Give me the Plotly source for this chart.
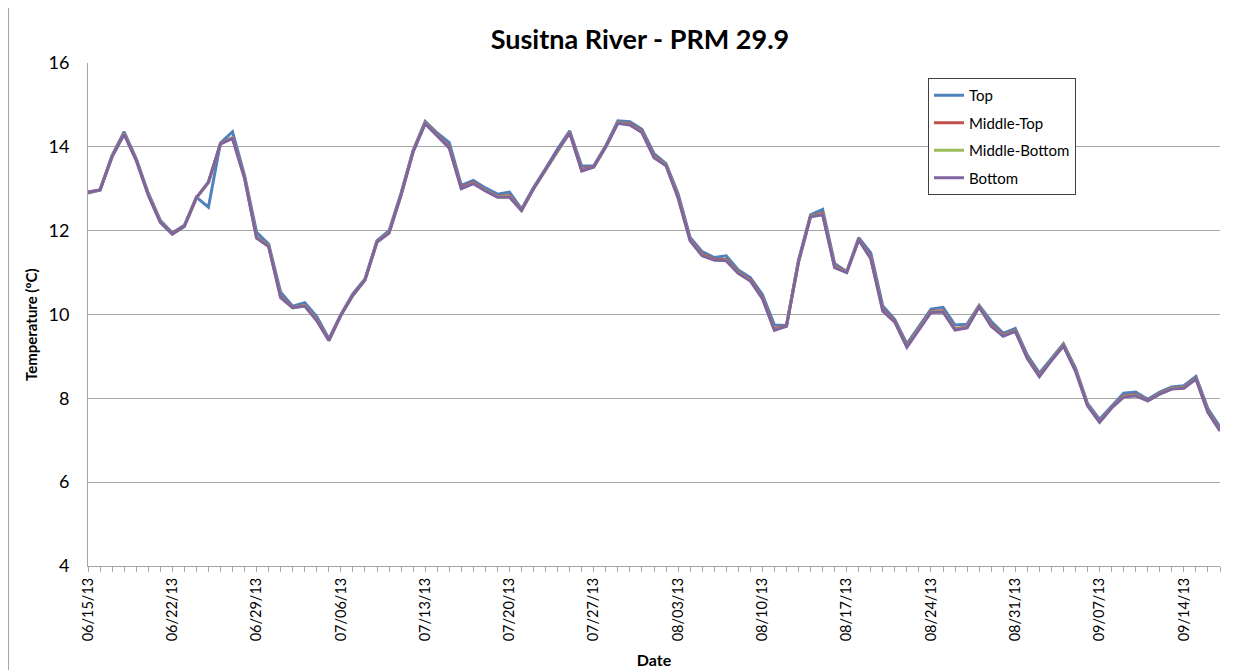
import pandas as pd
import plotly.graph_objects as go

start_date = "2013-06-15"
n_days = 95
dates = pd.date_range(start_date, periods=n_days, freq="D")

top = [12.90, 12.97, 13.80, 14.36, 13.72, 12.90, 12.25, 11.95, 12.13, 12.80,
       12.56, 14.09, 14.36, 13.32, 11.96, 11.68, 10.53, 10.20, 10.28, 9.95,
       9.42, 10.00, 10.50, 10.85, 11.76, 12.00, 12.90, 13.92, 14.61, 14.33,
       14.10, 13.08, 13.20, 13.02, 12.87, 12.92, 12.52, 13.03, 13.48, 13.95,
       14.38, 13.54, 13.55, 14.03, 14.62, 14.60, 14.42, 13.84, 13.60, 12.88,
       11.84, 11.50, 11.36, 11.40, 11.06, 10.88, 10.48, 9.75, 9.74, 11.30,
       12.38, 12.51, 11.22, 11.02, 11.83, 11.47, 10.20, 9.88, 9.30, 9.70,
       10.13, 10.17, 9.75, 9.77, 10.22, 9.84, 9.55, 9.67, 9.03, 8.60,
       8.95, 9.30, 8.72, 7.88, 7.50, 7.80, 8.12, 8.15, 7.98, 8.15,
       8.27, 8.30, 8.52, 7.75, 7.32]

middle_top = [12.91, 12.97, 13.78, 14.32, 13.70, 12.87, 12.22, 11.93, 12.11, 12.79,
              13.15, 14.08, 14.22, 13.27, 11.85, 11.64, 10.43, 10.17, 10.22, 9.88,
              9.39, 9.99, 10.47, 10.83, 11.74, 11.96, 12.87, 13.90, 14.57, 14.29,
              14.00, 13.03, 13.15, 12.97, 12.82, 12.84, 12.49, 13.01, 13.46, 13.93,
              14.35, 13.46, 13.53, 14.01, 14.58, 14.55, 14.37, 13.78, 13.57, 12.82,
              11.79, 11.44, 11.32, 11.31, 11.01, 10.83, 10.41, 9.66, 9.73, 11.27,
              12.35, 12.42, 11.16, 11.01, 11.80, 11.37, 10.12, 9.84, 9.25, 9.67,
              10.08, 10.09, 9.66, 9.71, 10.20, 9.76, 9.51, 9.62, 8.98, 8.55,
              8.92, 9.27, 8.68, 7.84, 7.45, 7.78, 8.06, 8.09, 7.95, 8.12,
              8.24, 8.26, 8.48, 7.69, 7.25]

middle_bottom = [12.92, 12.97, 13.77, 14.31, 13.69, 12.86, 12.21, 11.92, 12.10, 12.78,
                 13.16, 14.07, 14.21, 13.26, 11.83, 11.63, 10.41, 10.16, 10.21, 9.86,
                 9.38, 9.98, 10.46, 10.82, 11.73, 11.95, 12.86, 13.89, 14.56, 14.28,
                 13.98, 13.01, 13.13, 12.96, 12.81, 12.81, 12.48, 13.00, 13.45, 13.92,
                 14.34, 13.43, 13.52, 14.00, 14.57, 14.53, 14.35, 13.75, 13.56, 12.79,
                 11.77, 11.41, 11.30, 11.29, 10.99, 10.81, 10.39, 9.63, 9.72, 11.25,
                 12.34, 12.39, 11.13, 11.00, 11.79, 11.34, 10.09, 9.82, 9.23, 9.66,
                 10.06, 10.07, 9.64, 9.69, 10.19, 9.73, 9.49, 9.61, 8.96, 8.53,
                 8.91, 9.26, 8.66, 7.83, 7.44, 7.77, 8.04, 8.07, 7.94, 8.11,
                 8.23, 8.25, 8.47, 7.67, 7.23]

bottom = [12.92, 12.97, 13.76, 14.30, 13.68, 12.85, 12.20, 11.92, 12.10, 12.78,
          13.16, 14.07, 14.20, 13.25, 11.82, 11.62, 10.40, 10.16, 10.20, 9.85,
          9.38, 9.98, 10.46, 10.82, 11.73, 11.94, 12.85, 13.88, 14.55, 14.27,
          13.97, 13.00, 13.12, 12.95, 12.80, 12.80, 12.48, 13.00, 13.45, 13.92,
          14.33, 13.42, 13.52, 14.00, 14.56, 14.52, 14.34, 13.74, 13.55, 12.78,
          11.76, 11.40, 11.30, 11.28, 10.98, 10.80, 10.38, 9.62, 9.72, 11.25,
          12.33, 12.38, 11.12, 11.00, 11.78, 11.33, 10.08, 9.82, 9.22, 9.65,
          10.05, 10.06, 9.63, 9.68, 10.18, 9.72, 9.48, 9.60, 8.95, 8.52,
          8.90, 9.25, 8.65, 7.82, 7.43, 7.77, 8.03, 8.06, 7.94, 8.10,
          8.22, 8.24, 8.46, 7.66, 7.22]

series_names = ["Top", "Middle-Top", "Middle-Bottom", "Bottom"]
series_values = [top, middle_top, middle_bottom, bottom]
series_colors = ["#4F81BD", "#C0504D", "#9BBB59", "#8064A2"]

tick_dates = pd.date_range(start_date, dates[-1], freq="7D")

FONT = "Lato, 'Open Sans', sans-serif"

# page body has an 8px margin, so the figure is sized to the visible area
FIG_W, FIG_H = 1236, 662
PW, PH = 1132, 503  # plot area size in px

fig = go.Figure()
for name, vals, col in zip(series_names, series_values, series_colors):
    fig.add_trace(go.Scatter(
        x=dates, y=vals, name=name, mode="lines",
        line=dict(color=col, width=3), legendgroup=name,
    ))

fig.update_layout(
    width=FIG_W, height=FIG_H,
    margin=dict(l=80, r=24, t=55, b=104, autoexpand=False),
    paper_bgcolor="white", plot_bgcolor="white",
    font=dict(family=FONT, color="black"),
    title=dict(text="<b>Susitna River - PRM 29.9</b>", x=0.4876, xref="paper",
               xanchor="center", y=1 - 32 / FIG_H, yref="container", yanchor="middle",
               font=dict(size=27, family=FONT, color="black")),
    legend=dict(x=(928 - 88) / PW, y=(566 - 78) / PH, xanchor="left", yanchor="top",
                bgcolor="white", bordercolor="#404040", borderwidth=1,
                font=dict(size=15, family=FONT), tracegroupgap=5,
                itemwidth=30),
    showlegend=True,
)

fig.update_xaxes(
    type="date", automargin=False,
    range=[dates[0], dates[-1]],
    tickvals=tick_dates, tickformat="%m/%d/%y", tickangle=-90,
    tickfont=dict(size=14.5, family=FONT),
    ticks="outside", ticklen=5, tickcolor="#A6A6A6",
    minor=dict(dtick=86400000, ticks="outside", ticklen=5, tickcolor="#A6A6A6", showgrid=False),
    showgrid=False, showline=True, linecolor="#A6A6A6", linewidth=1,
    zeroline=False,
    title=dict(text="<b>Date</b>", font=dict(size=16, family=FONT), standoff=14),
)

fig.update_yaxes(
    automargin=False,
    range=[4, 16], dtick=2, tick0=4,
    tickfont=dict(size=18, family=FONT),
    ticks="", ticklabelstandoff=14,
    showgrid=True, gridcolor="#A6A6A6", gridwidth=1,
    showline=True, linecolor="#A6A6A6", linewidth=1,
    zeroline=False,
)

# y-axis title placed like the reference (slightly below the plot's centre)
fig.add_annotation(text="<b>Temperature (ºC)</b>", textangle=-90,
                   xref="paper", yref="paper",
                   x=(31 - 88) / PW, y=(566 - 325) / PH,
                   xanchor="center", yanchor="middle", showarrow=False,
                   font=dict(size=15, family=FONT, color="black"))

# outer chart border (left edge visible in reference)
fig.add_shape(type="line", xref="paper", yref="paper",
              x0=-79.5 / PW, x1=-79.5 / PW, y0=-104 / PH, y1=1 + 55 / PH,
              line=dict(color="#A6A6A6", width=1))

fig.write_html("out.html")
